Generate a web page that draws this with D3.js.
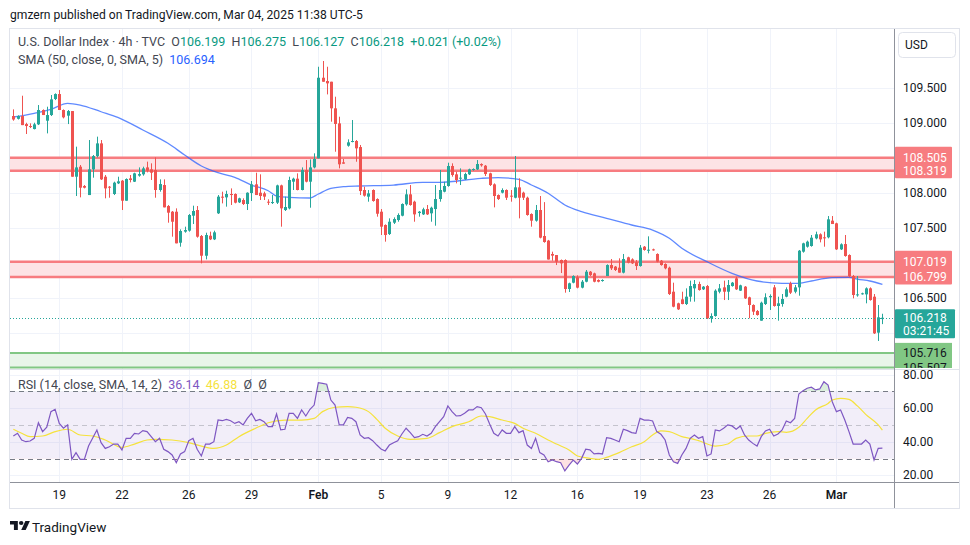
<!DOCTYPE html>
<html><head><meta charset="utf-8">
<script src="https://cdn.jsdelivr.net/npm/d3@7/dist/d3.min.js"></script>
<style>
body{margin:0;background:#fff;}
svg{display:block;font-family:Roboto,"Open Sans",sans-serif;}
text{white-space:pre;}
</style></head><body>
<svg id="c" width="970" height="545"></svg>
<script>
// ---------- DATA ----------
const opens = [109.10,109.06,109.10,108.985,108.957,108.914,108.981,109.186,109.033,109.114,109.343,109.414,109.186,109.105,109.171,108.233,108.376,108.10,107.971,108.338,108.528,108.709,108.233,108.09,107.986,108.138,108.176,107.89,108.209,108.162,108.248,108.267,108.366,108.338,108.328,108.043,108.114,107.814,107.733,107.733,107.29,107.448,107.462,107.676,107.757,107.386,107.104,107.39,107.338,107.71,107.948,107.938,107.986,107.986,107.867,107.90,107.843,108.0,108.124,108.004,107.995,107.876,107.862,107.862,108.109,107.757,107.781,108.162,108.205,108.043,108.328,108.162,108.366,108.495,109.647,109.60,109.59,109.21,108.995,108.438,108.676,108.733,108.743,108.657,108.043,107.948,108.043,107.914,107.733,107.543,107.414,107.576,107.614,107.676,107.838,107.981,107.876,107.714,107.695,107.771,107.71,107.771,107.914,108.019,108.10,108.386,108.267,108.205,108.195,108.267,108.329,108.338,108.414,108.39,108.281,108.124,107.971,108.005,108.043,107.962,107.933,108.081,108.005,107.933,107.70,107.605,107.757,107.386,107.32,107.129,107.114,107.043,107.043,106.629,106.719,106.795,106.648,106.733,106.876,106.852,106.757,106.743,106.814,106.971,106.948,106.933,106.862,107.081,107.052,107.01,106.957,107.233,107.181,107.195,107.129,107.033,106.986,106.933,106.59,106.424,106.481,106.414,106.519,106.638,106.70,106.624,106.671,106.21,106.243,106.59,106.652,106.59,106.671,106.781,106.605,106.662,106.51,106.40,106.314,106.176,106.414,106.51,106.652,106.386,106.414,106.519,106.71,106.59,106.652,107.162,107.233,107.243,107.352,107.41,107.367,107.367,107.605,107.567,107.195,107.271,107.114,106.814,106.543,106.557,106.552,106.638,106.519,106.005,106.199];
const highs = [109.195,109.11,109.39,109.004,108.995,109.004,109.257,109.195,109.233,109.40,109.424,109.471,109.195,109.186,109.171,108.662,108.40,108.114,108.757,108.543,108.805,108.757,108.257,108.10,108.162,108.233,108.186,108.209,108.257,108.29,108.366,108.376,108.448,108.424,108.509,108.195,108.195,107.828,107.743,107.781,107.481,107.519,107.70,107.819,107.814,107.40,107.433,107.448,107.462,107.971,108.019,108.033,108.066,107.995,107.933,107.924,108.01,108.171,108.29,108.267,108.019,107.91,107.971,108.119,108.119,107.948,108.233,108.219,108.281,108.366,108.471,108.48,108.567,109.804,109.886,109.804,109.59,109.376,109.09,108.486,108.767,109.043,108.757,108.686,108.09,108.043,108.052,107.924,107.771,107.552,107.638,107.652,107.71,107.852,108.052,108.114,107.89,107.743,107.79,107.829,107.805,108.114,108.329,108.162,108.433,108.424,108.305,108.352,108.29,108.348,108.352,108.471,108.424,108.40,108.29,108.138,107.98,108.067,108.052,108.043,108.529,108.21,108.019,107.948,107.71,107.829,107.957,107.87,107.33,107.162,107.114,107.05,107.052,106.719,106.824,106.824,106.757,106.90,106.886,106.862,106.767,106.767,106.981,107.057,106.957,107.067,107.129,107.09,107.067,107.043,107.257,107.243,107.381,107.205,107.138,107.043,106.995,106.948,106.719,106.433,106.59,106.638,106.748,106.757,106.733,106.671,106.686,106.281,106.624,106.70,106.748,106.757,106.729,106.805,106.69,106.671,106.519,106.41,106.329,106.448,106.567,106.552,106.686,106.519,106.557,106.652,106.733,106.686,107.186,107.29,107.32,107.40,107.448,107.424,107.448,107.671,107.671,107.576,107.281,107.40,107.124,106.829,106.814,106.576,106.652,106.652,106.557,106.40,106.275];
const lows = [109.033,109.05,108.97,108.843,108.928,108.909,108.971,109.114,108.852,109.10,109.328,109.186,109.066,108.985,108.233,107.957,107.938,108.066,107.971,108.219,108.509,108.186,107.924,107.933,107.971,108.128,107.757,107.89,108.152,108.157,108.233,108.248,108.295,108.186,107.933,108.019,107.795,107.576,107.376,107.281,107.233,107.433,107.448,107.557,107.362,106.995,107.052,107.328,107.328,107.70,107.852,107.805,107.829,107.852,107.857,107.829,107.757,107.886,107.971,107.90,107.90,107.829,107.843,107.843,107.519,107.743,107.767,108.043,108.038,108.038,108.152,107.79,108.352,108.495,109.59,109.409,109.019,108.59,108.352,108.419,108.662,108.724,108.447,107.971,107.948,107.876,107.876,107.662,107.40,107.305,107.40,107.557,107.59,107.667,107.819,107.819,107.59,107.662,107.686,107.686,107.59,107.533,107.876,108.01,108.09,108.233,108.138,108.114,108.186,108.257,108.319,108.329,108.376,108.243,108.10,107.795,107.90,107.995,107.90,107.876,107.924,107.638,107.90,107.676,107.519,107.591,107.352,107.29,107.05,107.033,106.971,106.857,106.576,106.586,106.71,106.638,106.638,106.724,106.814,106.724,106.724,106.733,106.814,106.90,106.886,106.862,106.852,106.995,106.986,106.90,106.948,107.176,107.138,107.176,107.01,106.962,106.91,106.543,106.367,106.329,106.41,106.40,106.448,106.448,106.605,106.614,106.20,106.148,106.233,106.567,106.471,106.471,106.662,106.614,106.60,106.486,106.21,106.257,106.248,106.176,106.40,106.329,106.376,106.176,106.376,106.51,106.557,106.567,106.533,107.148,107.22,107.233,107.338,107.295,107.233,107.352,107.557,107.186,107.186,107.09,106.795,106.495,106.519,106.548,106.424,106.462,105.986,105.886,106.127];
const closes = [109.05,109.10,108.97,108.957,108.943,108.981,109.186,109.114,109.114,109.338,109.414,109.186,109.081,109.171,108.233,108.366,108.076,108.076,108.338,108.528,108.709,108.195,108.066,108.076,108.148,108.167,107.89,108.20,108.186,108.281,108.271,108.352,108.319,108.29,108.043,108.128,107.795,107.719,107.59,107.281,107.457,107.471,107.686,107.743,107.376,107.104,107.40,107.338,107.438,107.948,107.933,107.986,107.971,107.862,107.924,107.843,108.004,108.124,107.971,107.957,107.948,107.862,107.871,108.109,107.781,107.80,108.186,108.205,108.043,108.328,108.162,108.366,108.486,109.647,109.59,109.567,109.21,108.986,108.41,108.419,108.724,108.743,108.638,108.028,107.962,107.995,107.886,107.704,107.519,107.40,107.59,107.628,107.686,107.843,107.981,107.829,107.695,107.733,107.767,107.695,107.79,107.914,108.043,108.10,108.386,108.257,108.186,108.219,108.271,108.338,108.343,108.414,108.395,108.271,108.114,107.957,107.914,108.043,107.933,107.948,108.081,107.933,107.933,107.686,107.605,107.757,107.362,107.30,107.05,107.105,107.019,106.995,106.629,106.71,106.814,106.648,106.733,106.876,106.829,106.733,106.733,106.757,106.971,106.924,106.90,106.862,107.057,107.005,106.995,106.957,107.219,107.186,107.19,107.186,107.019,106.971,106.924,106.557,106.376,106.338,106.414,106.519,106.671,106.70,106.614,106.662,106.21,106.243,106.605,106.638,106.59,106.686,106.719,106.624,106.681,106.495,106.40,106.305,106.257,106.433,106.51,106.529,106.386,106.424,106.486,106.624,106.576,106.652,107.176,107.281,107.305,107.362,107.41,107.338,107.357,107.624,107.557,107.195,107.267,107.10,106.814,106.543,106.552,106.567,106.638,106.471,105.995,106.224,106.218];

const smaBars = [0,5,9,13,16,21,25,31,37,41,45,49,53,57,61,63,66,71,73,76,79,83,91,98,102,112,116,121,124,128,132,136,142,148,153,157,160,166,172,178,184,188,191,196,200,202,205,208];
const smaVals = [109.086,109.139,109.196,109.281,109.257,109.161,109.081,108.90,108.71,108.543,108.386,108.29,108.224,108.114,108.033,107.957,107.939,107.929,107.986,108.067,108.09,108.10,108.114,108.153,108.153,108.21,108.219,108.196,108.114,107.996,107.829,107.733,107.639,107.543,107.471,107.353,107.21,107.019,106.853,106.743,106.71,106.71,106.743,106.79,106.796,106.771,106.743,106.694];

const rsiVals = [43.4,45.0,41.0,40.0,40.4,42.0,51.3,46.0,48.6,57.9,59.3,50.9,48.0,50.0,29.5,33.5,29.5,29.5,37.4,42.2,47.0,39.4,36.0,37.0,38.6,38.6,35.1,42.0,42.0,45.0,44.6,46.6,46.0,43.0,40.0,42.0,35.5,34.1,32.1,27.5,32.7,34.1,40.6,42.0,35.5,31.5,38.6,38.6,40.0,52.9,52.5,53.3,52.5,50.9,51.9,50.0,53.9,56.9,52.5,53.3,51.9,49.0,49.0,56.5,47.0,47.4,56.9,56.9,53.9,58.9,55.3,59.3,61.8,75.1,74.7,74.2,64.8,61.8,50.0,50.0,54.5,53.9,51.9,44.0,42.0,42.4,40.6,38.0,35.7,34.5,38.0,39.4,40.6,44.6,48.0,45.4,42.4,43.0,44.4,43.4,45.0,49.0,51.9,54.9,61.3,57.9,55.3,55.5,56.9,58.9,58.9,60.9,60.2,56.5,50.5,45.0,43.4,47.0,45.0,45.0,49.0,45.4,46.6,38.0,36.0,42.0,33.5,32.1,28.1,29.1,28.1,27.5,22.6,26.1,29.1,26.7,30.1,35.5,35.1,32.7,33.1,32.7,42.4,42.0,41.0,40.0,47.4,46.6,45.4,45.0,53.9,52.9,52.9,52.3,46.0,44.4,41.0,32.1,28.1,27.1,32.1,36.0,42.0,44.0,42.0,43.0,31.5,32.7,47.0,46.4,48.0,50.0,49.4,47.4,49.4,44.0,41.0,39.0,37.4,43.0,46.4,47.4,43.4,44.6,47.0,52.3,51.3,53.9,68.4,70.4,71.8,72.4,70.8,71.4,75.7,73.7,63.8,57.9,58.9,52.9,46.0,38.6,38.6,38.6,41.0,38.6,29.1,36.0,36.14];

const rsiMaBars = [0,2,4,7,10,13,16,19,22,26,29,32,34,38,42,45,48,51,54,58,61,65,69,72,74,77,80,82,85,87,89,92,95,99,102,105,109,112,114,117,120,122,125,128,130,133,135,138,140,142,145,148,151,153,155,157,160,162,164,168,171,173,176,178,180,183,185,188,190,192,195,196,198,200,202,204,207,208];
const rsiMaVals = [47.4,45.0,43.0,43.4,46.0,47.4,44.0,43.4,41.0,36.6,38.6,41.0,41.4,41.0,39.4,37.4,36.0,38.0,43.0,48.0,51.3,52.9,52.9,53.9,57.9,60.5,60.9,60.5,57.9,53.3,48.0,43.4,41.4,42.0,45.4,49.0,51.9,55.3,54.9,52.9,50.9,48.0,45.0,41.0,38.6,35.1,31.5,30.1,29.5,30.7,33.5,37.0,40.0,44.0,46.4,46.0,43.0,42.0,40.6,37.4,38.6,42.0,43.4,43.4,45.0,46.0,45.6,48.6,53.9,58.9,62.8,64.8,65.8,65.2,61.3,56.3,50.0,46.88];

const priceTicks = [106.0,106.5,107.0,107.5,108.0,108.5,109.0,109.5];
const rsiTicks = [20,40,60,80];
const rsiLevels = [70,50,30];
const timeLabels = ["19","22","26","29","Feb","5","9","12","16","19","23","26","Mar"];
const timeBars = [11,26,42,57,73,88,104,119,135,150,166,181,197];
const redZones = [[108.505,108.319],[107.019,106.799]];
const greenZone = [105.716,105.507];
const lastPrice = 106.218;
const countdown = "03:21:45";
const ohlcLast = [["O","106.199"],["H","106.275"],["L","106.127"],["C","106.218"]];
const changeText = "+0.021 (+0.02%)";
const smaLast = 106.694, rsiLast = 36.14, rsiMaLast = 46.88;

// ---------- LAYOUT ----------
const svg = d3.select('#c');
const L = 10, R = 894, mainT = 29, mainB = 369, rsiT = 370, rsiB = 482;
const UP = '#26a69a', DN = '#ef5350';
const x = d3.scaleLinear().domain([0, 208]).range([13.33, 882.4]);
const y = d3.scaleLinear().domain([105.5, 110.329]).range([368, 30]);
const yr = d3.scaleLinear().domain([20, 80]).range([475.3, 374.5]);

svg.append('rect').attr('width',970).attr('height',545).attr('fill','#fff');

const defs = svg.append('defs');
defs.append('clipPath').attr('id','mainClip').append('rect').attr('x',L).attr('y',mainT).attr('width',R-L).attr('height',mainB-mainT);
defs.append('clipPath').attr('id','rsiClip').append('rect').attr('x',L).attr('y',rsiT).attr('width',R-L).attr('height',rsiB-rsiT);
defs.append('clipPath').attr('id','obClip').append('rect').attr('x',L).attr('y',rsiT).attr('width',R-L).attr('height',yr(70)-rsiT);
defs.append('clipPath').attr('id','osClip').append('rect').attr('x',L).attr('y',yr(30)).attr('width',R-L).attr('height',rsiB-yr(30));
defs.append('clipPath').attr('id','gtag').append('rect').attr('x',895).attr('y',340).attr('width',60).attr('height',mainB-341);

// frame
svg.append('rect').attr('x',9.5).attr('y',28.5).attr('width',950).attr('height',480).attr('fill','none').attr('stroke','#e0e3eb');

// grid
const grid = svg.append('g').attr('stroke','#f0f3fa').attr('stroke-width',1);
grid.selectAll('line.v').data(timeBars).join('line')
  .attr('x1',d=>Math.round(x(d))+0.5).attr('x2',d=>Math.round(x(d))+0.5).attr('y1',mainT).attr('y2',rsiB);
grid.selectAll('line.hp').data(priceTicks).join('line')
  .attr('x1',L).attr('x2',R).attr('y1',d=>Math.round(y(d))+0.5).attr('y2',d=>Math.round(y(d))+0.5);
grid.selectAll('line.hr').data(rsiTicks).join('line')
  .attr('x1',L).attr('x2',R).attr('y1',d=>Math.round(yr(d))+0.5).attr('y2',d=>Math.round(yr(d))+0.5);

// main pane
const main = svg.append('g').attr('clip-path','url(#mainClip)');
redZones.forEach(z=>{
  main.append('rect').attr('x',L).attr('width',R-L).attr('y',y(z[0])).attr('height',y(z[1])-y(z[0])).attr('fill','#fde3e5');
  z.forEach(v=>main.append('line').attr('x1',L).attr('x2',R).attr('y1',y(v)).attr('y2',y(v)).attr('stroke','#f77c80').attr('stroke-width',2.5));
});
main.append('rect').attr('x',L).attr('width',R-L).attr('y',y(greenZone[0])).attr('height',y(greenZone[1])-y(greenZone[0])).attr('fill','#e8f5e9');
greenZone.forEach(v=>main.append('line').attr('x1',L).attr('x2',R).attr('y1',y(v)).attr('y2',y(v)).attr('stroke','#81c784').attr('stroke-width',2));

// SMA
main.append('path').datum(smaBars.map((b,i)=>[b,smaVals[i]]))
  .attr('d', d3.line().x(d=>x(d[0])).y(d=>y(d[1])).curve(d3.curveMonotoneX))
  .attr('fill','none').attr('stroke','#2962ff').attr('stroke-opacity',0.75).attr('stroke-width',1.3);

// candles
const idx = d3.range(opens.length);
const cg = main.append('g');
cg.selectAll('line').data(idx).join('line')
  .attr('x1',i=>Math.round(x(i))+0.5).attr('x2',i=>Math.round(x(i))+0.5)
  .attr('y1',i=>y(highs[i])).attr('y2',i=>y(lows[i]))
  .attr('stroke',i=>closes[i]>=opens[i]?UP:DN).attr('stroke-width',1);
cg.selectAll('rect').data(idx).join('rect')
  .attr('x',i=>Math.round(x(i))-1).attr('width',3)
  .attr('y',i=>y(Math.max(opens[i],closes[i])))
  .attr('height',i=>Math.max(1,Math.abs(y(opens[i])-y(closes[i]))))
  .attr('fill',i=>closes[i]>=opens[i]?UP:DN);

// last price dotted
main.append('line').attr('x1',L).attr('x2',R).attr('y1',Math.round(y(lastPrice))+0.5).attr('y2',Math.round(y(lastPrice))+0.5)
  .attr('stroke',UP).attr('stroke-dasharray','1,2');

// pane separators
svg.append('line').attr('x1',L).attr('x2',959).attr('y1',369.5).attr('y2',369.5).attr('stroke','#e0e3eb');
svg.append('line').attr('x1',R+0.5).attr('x2',R+0.5).attr('y1',mainT).attr('y2',508).attr('stroke','#8f929b');
svg.append('line').attr('x1',L).attr('x2',959).attr('y1',482.5).attr('y2',482.5).attr('stroke','#8f929b');

// tag extents (used to hide covered tick labels)
const tagBoxes = [];
redZones.forEach(z=>tagBoxes.push([y(z[0])-11, y(z[1])+7.5]));
tagBoxes.push([y(lastPrice)-8.5, y(lastPrice)+20.5]);
tagBoxes.push([y(greenZone[0])-10, mainB]);

// price axis labels
const visibleTicks = priceTicks.filter(t=>!tagBoxes.some(b=>y(t)+6>b[0] && y(t)-6<b[1]));
svg.append('g').attr('font-size',12).attr('fill','#131722').selectAll('text').data(visibleTicks).join('text')
  .attr('x',903).attr('y',d=>y(d)+4).text(d=>d.toFixed(3));

// tags
redZones.forEach((z,k)=>{
  const b = tagBoxes[k];
  svg.append('rect').attr('x',895).attr('y',b[0]).attr('width',57).attr('height',b[1]-b[0]).attr('fill','#f77c80').attr('rx',1);
  z.forEach(v=>svg.append('text').attr('x',903).attr('y',y(v)+4).attr('font-size',12).attr('fill','#fff').text(v.toFixed(3)));
});
svg.append('rect').attr('x',895).attr('y',tagBoxes[2][0]).attr('width',60).attr('height',tagBoxes[2][1]-tagBoxes[2][0]).attr('fill','#26a69a').attr('rx',1);
svg.append('text').attr('x',903).attr('y',y(lastPrice)+4.5).attr('font-size',12).attr('fill','#fff').text(lastPrice.toFixed(3));
svg.append('text').attr('x',903).attr('y',y(lastPrice)+17.5).attr('font-size',12).attr('fill','#fff').text(countdown);
svg.append('rect').attr('x',895).attr('y',tagBoxes[3][0]).attr('width',57).attr('height',tagBoxes[3][1]-tagBoxes[3][0]-1).attr('fill','#81c784');
svg.append('text').attr('x',903).attr('y',y(greenZone[0])+4.5).attr('font-size',12).attr('fill','#131722').text(greenZone[0].toFixed(3));
svg.append('g').attr('clip-path','url(#gtag)').append('text').attr('x',903).attr('y',y(greenZone[1])+4).attr('font-size',12).attr('fill','#131722').text(greenZone[1].toFixed(3));

// USD box
svg.append('rect').attr('x',898.5).attr('y',32.5).attr('width',57).attr('height',25).attr('rx',4).attr('fill','#fff').attr('stroke','#e0e3eb');
svg.append('text').attr('x',905).attr('y',49).attr('font-size',12).attr('fill','#131722').text('USD');

// RSI pane
const rp = svg.append('g').attr('clip-path','url(#rsiClip)');
rp.append('rect').attr('x',L).attr('width',R-L).attr('y',yr(70)).attr('height',yr(30)-yr(70)).attr('fill','#7e57c2').attr('fill-opacity',0.1);
rp.selectAll('line.lv').data(rsiLevels).join('line')
  .attr('x1',L).attr('x2',R).attr('y1',d=>Math.round(yr(d))+0.5).attr('y2',d=>Math.round(yr(d))+0.5)
  .attr('stroke',d=>d===50?'#9598a1':'#787b86').attr('stroke-opacity',d=>d===50?0.5:1).attr('stroke-dasharray','5,4');
const rsiPts = idx.map(i=>[i,rsiVals[i]]);
rp.append('path').datum(rsiPts).attr('clip-path','url(#obClip)')
  .attr('d',d3.area().x(d=>x(d[0])).y0(yr(70)).y1(d=>yr(d[1])))
  .attr('fill','#4caf50').attr('fill-opacity',0.2);
rp.append('path').datum(rsiPts).attr('clip-path','url(#osClip)')
  .attr('d',d3.area().x(d=>x(d[0])).y0(yr(30)).y1(d=>yr(d[1])))
  .attr('fill','#f23645').attr('fill-opacity',0.15);
rp.append('path').datum(rsiMaBars.map((b,i)=>[b,rsiMaVals[i]]))
  .attr('d',d3.line().x(d=>x(d[0])).y(d=>yr(d[1])).curve(d3.curveMonotoneX))
  .attr('fill','none').attr('stroke','#f5e23c').attr('stroke-width',1.2);
rp.append('path').datum(rsiPts)
  .attr('d',d3.line().x(d=>x(d[0])).y(d=>yr(d[1])))
  .attr('fill','none').attr('stroke','#7e57c2').attr('stroke-width',1.2);

svg.append('g').attr('font-size',12).attr('fill','#131722').selectAll('text').data(rsiTicks).join('text')
  .attr('x',903).attr('y',d=>yr(d)+4).text(d=>d.toFixed(2));

// time axis
svg.append('g').attr('font-size',12).attr('fill','#131722').attr('text-anchor','middle')
  .selectAll('text').data(timeLabels).join('text')
  .attr('x',(d,i)=>x(timeBars[i])).attr('y',499)
  .attr('font-weight',d=>isNaN(+d)?600:400).text(d=>d);

// header
svg.append('text').attr('x',10).attr('y',19).attr('font-size',12.1).attr('fill','#131722')
  .text('gmzern published on TradingView.com, Mar 04, 2025 11:38 UTC-5');
const h2 = svg.append('text').attr('x',18).attr('y',46).attr('font-size',12.5);
h2.append('tspan').attr('fill','#434651').text('U.S. Dollar Index · 4h · TVC  ');
ohlcLast.forEach(p=>{
  h2.append('tspan').attr('fill','#434651').text(p[0]);
  h2.append('tspan').attr('fill','#089981').text(p[1]+'  ');
});
h2.append('tspan').attr('fill','#089981').text(changeText);
const h3 = svg.append('text').attr('x',18).attr('y',63.5).attr('font-size',12.5);
h3.append('tspan').attr('fill','#434651').text('SMA (50, close, 0, SMA, 5)  ');
h3.append('tspan').attr('fill','#2962ff').text(smaLast.toFixed(3));
const h4 = svg.append('text').attr('x',18).attr('y',389).attr('font-size',12.5);
h4.append('tspan').attr('fill','#434651').text('RSI (14, close, SMA, 14, 2)  ');
h4.append('tspan').attr('fill','#7e57c2').text(rsiLast.toFixed(2)+'  ');
h4.append('tspan').attr('fill','#f5e23c').text(rsiMaLast.toFixed(2)+'  ');
h4.append('tspan').attr('fill','#434651').text('Ø  Ø');

// logo
const lg = svg.append('g').attr('transform','translate(10,519) scale(0.56,0.5)').attr('fill','#131722');
lg.append('path').attr('d','M14 22H7V11H0V4h14v18zM28 22h-8l7.5-18h8L28 22z');
lg.append('circle').attr('cx',20).attr('cy',8).attr('r',4);
svg.append('text').attr('x',32).attr('y',532).attr('font-size',13.5).attr('fill','#131722').text('TradingView');
</script>
</body></html>
